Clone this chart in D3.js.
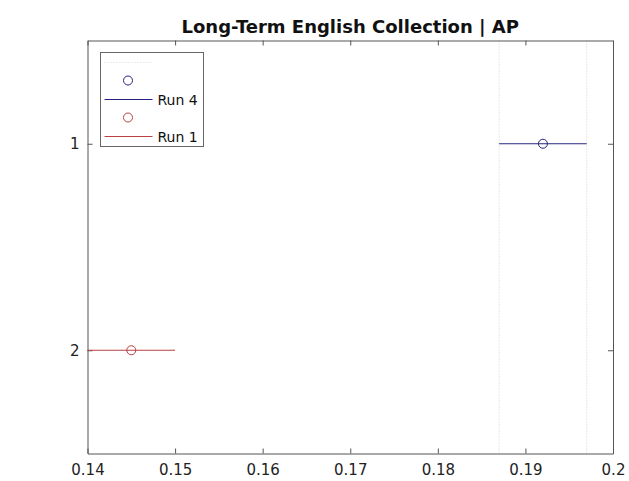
<!DOCTYPE html>
<html>
<head>
<meta charset="utf-8">
<script src="https://cdn.jsdelivr.net/npm/d3@7"></script>
<style>
  body { margin: 0; background: #fff; }
  svg { display: block; }
  text { font-family: "DejaVu Sans", sans-serif; }
</style>
</head>
<body>
<div id="chart"></div>
<script>
// data
var runs = ["Run 4", "Run 1"];
var rows = [1, 2];
var means = [0.192, 0.145];
var lows = [0.187, 0.140];
var highs = [0.197, 0.150];
var colors = ["#24247e", "#b84040"];
var xTicks = [0.14, 0.15, 0.16, 0.17, 0.18, 0.19, 0.2];
var yTicks = [1, 2];
var refLines = [0.187, 0.197];

var width = 629, height = 481;
var margin = { left: 87.5, top: 40.5, right: 16, bottom: 27.5 };

var svg = d3.select("#chart").append("svg")
    .attr("width", width)
    .attr("height", height);

var x = d3.scaleLinear().domain([0.14, 0.2]).range([margin.left, width - margin.right]);
var y = d3.scaleLinear().domain([0.5, 2.5]).range([margin.top, height - margin.bottom]);

svg.append("text")
    .attr("x", (margin.left + width - margin.right) / 2)
    .attr("y", 33)
    .attr("text-anchor", "middle")
    .attr("font-weight", "bold")
    .attr("font-size", 18)
    .attr("fill", "#111")
    .text("Long-Term English Collection | AP");

// dotted reference lines at the best run's interval
svg.selectAll(".ref").data(refLines).enter().append("line")
    .attr("class", "ref")
    .attr("x1", function (d) { return x(d); })
    .attr("x2", function (d) { return x(d); })
    .attr("y1", y(0.5))
    .attr("y2", y(2.5))
    .attr("stroke", "#cfcfcf")
    .attr("stroke-dasharray", "1,2");

// axes: ticks inward on all four sides
var axisColor = "#555";
var tickSize = 5;
function styleAxis(g, showLabels) {
    g.attr("font-size", 15).attr("font-family", "DejaVu Sans, sans-serif");
    g.select(".domain").attr("stroke", axisColor);
    g.selectAll(".tick line").attr("stroke", axisColor);
    g.selectAll(".tick text").attr("fill", "#222");
    if (!showLabels) g.selectAll(".tick text").remove();
}

svg.append("g")
    .attr("transform", "translate(0," + y(2.5) + ")")
    .call(d3.axisBottom(x).tickValues(xTicks).tickSizeInner(-tickSize).tickSizeOuter(0).tickPadding(11).tickFormat(d3.format("")))
    .call(function (g) { styleAxis(g, true); });

svg.append("g")
    .attr("transform", "translate(0," + y(0.5) + ")")
    .call(d3.axisTop(x).tickValues(xTicks).tickSizeInner(-tickSize).tickSizeOuter(0))
    .call(function (g) { styleAxis(g, false); });

svg.append("g")
    .attr("transform", "translate(" + x(0.14) + ",0)")
    .call(d3.axisLeft(y).tickValues(yTicks).tickSizeInner(-tickSize).tickSizeOuter(0).tickPadding(8).tickFormat(d3.format("d")))
    .call(function (g) { styleAxis(g, true); });

svg.append("g")
    .attr("transform", "translate(" + x(0.2) + ",0)")
    .call(d3.axisRight(y).tickValues(yTicks).tickSizeInner(-tickSize).tickSizeOuter(0))
    .call(function (g) { styleAxis(g, false); });

// interval lines and mean circles
var marks = svg.append("g");
rows.forEach(function (r, i) {
    marks.append("line")
        .attr("x1", x(lows[i]))
        .attr("x2", x(highs[i]))
        .attr("y1", y(r))
        .attr("y2", y(r))
        .attr("stroke", colors[i])
        .attr("stroke-width", 1.2);
    marks.append("circle")
        .attr("cx", x(means[i]))
        .attr("cy", y(r))
        .attr("r", 4.5)
        .attr("fill", "none")
        .attr("stroke", colors[i])
        .attr("stroke-width", 1);
});

// legend
var lg = svg.append("g").attr("transform", "translate(100.5,52.5)");
lg.append("rect")
    .attr("width", 103)
    .attr("height", 94)
    .attr("fill", "#fff")
    .attr("stroke", "#666");
lg.append("line")
    .attr("x1", 4).attr("x2", 50).attr("y1", 10).attr("y2", 10)
    .attr("stroke", "#d8d8d8").attr("stroke-dasharray", "1,2");
runs.forEach(function (name, i) {
    var top = 28 + i * 37;
    lg.append("circle")
        .attr("cx", 27.5).attr("cy", top)
        .attr("r", 4.5)
        .attr("fill", "none")
        .attr("stroke", colors[i]);
    lg.append("line")
        .attr("x1", 4).attr("x2", 52)
        .attr("y1", top + 19).attr("y2", top + 19)
        .attr("stroke", colors[i]);
    lg.append("text")
        .attr("x", 57).attr("y", top + 24)
        .attr("fill", "#111")
        .attr("font-size", 14)
        .text(name);
});
</script>
</body>
</html>
